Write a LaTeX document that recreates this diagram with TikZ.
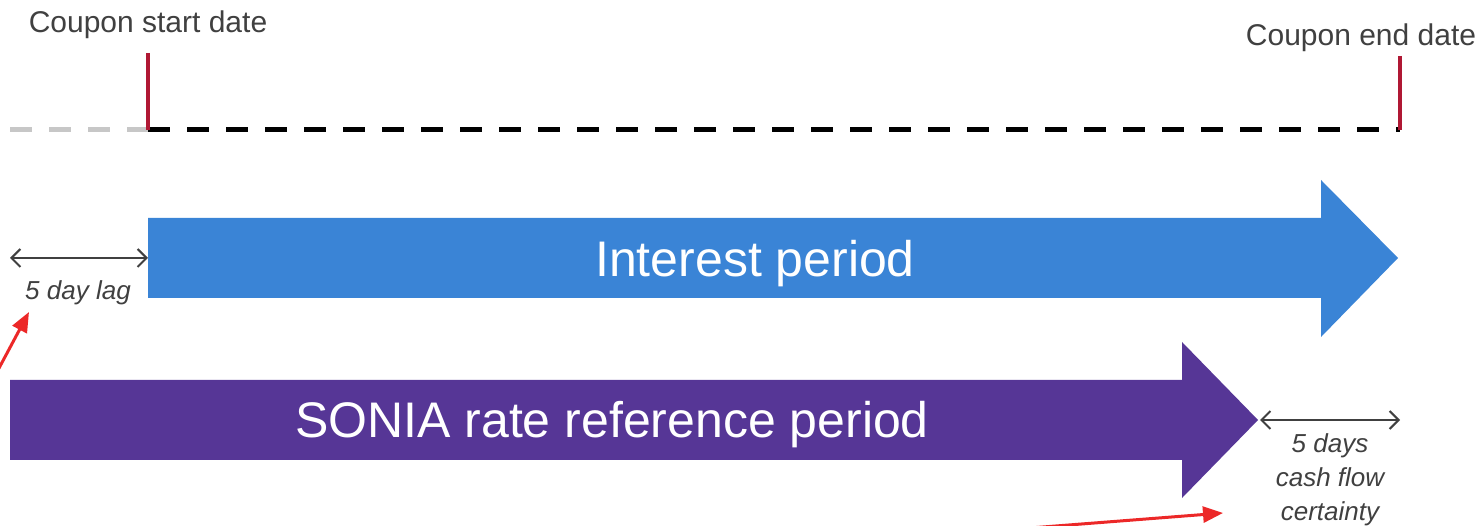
\documentclass[tikz,border=0pt]{standalone}
\usepackage{fontspec}
\setmainfont{Liberation Sans}
\usetikzlibrary{arrows.meta}
\definecolor{ipblue}{RGB}{58,132,214}
\definecolor{snpurple}{RGB}{86,54,150}
\definecolor{datered}{RGB}{176,24,52}
\definecolor{txtgray}{RGB}{64,64,64}
\definecolor{callred}{RGB}{236,40,40}
\tikzset{
  datelabel/.style={text=txtgray,font=\fontsize{30}{36}\selectfont,inner sep=0pt},
  barlabel/.style={text=white,font=\fontsize{50}{60}\selectfont,inner sep=0pt},
  notelabel/.style={text=txtgray,font=\itshape\fontsize{26}{34}\selectfont,inner sep=0pt,align=center},
  tickline/.style={draw=datered,line width=4pt},
  timeline/.style={line width=5pt,dash pattern=on 22pt off 17pt},
  spanarrow/.style={draw=txtgray,line width=2pt,{Straight Barb[length=9pt,width=18pt,line width=2pt]}-{Straight Barb[length=9pt,width=18pt,line width=2pt]}},
  callout/.style={draw=callred,line width=3pt,-{Triangle[length=20pt,width=16pt]}}
}
\begin{document}
\begin{tikzpicture}[x=1pt,y=-1pt]
\useasboundingbox (0,0) rectangle (1481,526);
% timeline
\coordinate (tl0) at (10,130);
\coordinate (ts) at (148,130);
\coordinate (te) at (1400,130);
\coordinate (tstop) at (148,53);
\coordinate (tetop) at (1400,56);
\draw[timeline,draw=black!22] (tl0) -- (ts);
\draw[timeline,draw=black] (ts) -- (te);
\draw[tickline] (tstop) -- (ts);
\draw[tickline] (tetop) -- (te);
\node[datelabel] (cs) at (148,25) {Coupon start date};
\node[datelabel] (ce) at (1361,38) {Coupon end date};
% interest period arrow
\fill[ipblue] (148,218) -- (1321,218) -- (1321,180) -- (1398,258) -- (1321,337) -- (1321,298) -- (148,298) -- cycle;
\node[barlabel] (ip) at (755,264) {Interest period};
% SONIA arrow
\fill[snpurple] (10,380) -- (1182,380) -- (1182,342) -- (1258,420) -- (1182,498) -- (1182,460) -- (10,460) -- cycle;
\node[barlabel] (sn) at (612,425) {SONIA rate reference period};
% lag arrows
\coordinate (lagL) at (10,258);
\coordinate (lagR) at (148,258);
\draw[spanarrow] (lagL) -- (lagR);
\node[notelabel] (lag) at (78,293) {5 day lag};
\coordinate (cfL) at (1260,420);
\coordinate (cfR) at (1400,420);
\draw[spanarrow] (cfL) -- (cfR);
\node[notelabel,anchor=north] (cf) at (1330,433) {5 days\\cash flow\\certainty};
% red callouts
\coordinate (c1a) at (-2,370);
\coordinate (c1b) at (29,312);
\draw[callout] (c1a) -- (c1b);
\coordinate (c2a) at (1030,528);
\coordinate (c2b) at (1223,513);
\draw[callout] (c2a) -- (c2b);
\end{tikzpicture}
\end{document}
